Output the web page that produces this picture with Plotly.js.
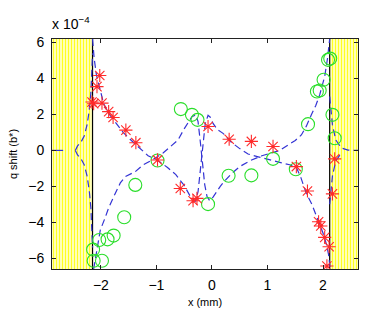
<!DOCTYPE html>
<html><head><meta charset="utf-8">
<script src="https://cdn.plot.ly/plotly-3.0.1.min.js"></script>
<style>html,body{margin:0;padding:0;background:#fff}#chart{width:365px;height:319px}</style>
</head><body><div id="chart"></div>
<script>
// y values are in units of 1e-4 (axis shows "x 10^-4")
const xRange = [-2.88, 2.63];
const yRange = [-6.6, 6.2];
const edgeLeft = -2.15, edgeRight = 2.12;

const redX = [-2.02,-2.07,-2.16,-2.13,-1.98,-1.86,-1.78,-1.55,-1.37,-0.98,-0.57,-0.34,-0.27,-0.07,0.31,0.71,1.10,1.52,1.72,1.92,1.96,2.03,2.11,2.07,2.21,2.17];
const redY = [4.17,3.55,2.69,2.6,2.63,2.16,1.83,1.13,0.43,-0.53,-2.12,-2.80,-2.67,1.33,0.62,0.50,0.22,-0.90,-2.26,-3.97,-4.21,-4.84,-5.36,-6.43,-0.47,-2.42];

const greenX = [-2.14,-2.13,-1.98,-2.03,-1.88,-1.77,-1.58,-1.38,-0.98,-0.56,-0.36,-0.26,-0.07,0.30,0.71,1.10,1.51,1.73,1.89,1.94,2.01,2.09,2.13,2.17,2.21];
const greenY = [-5.52,-6.14,-6.14,-4.99,-4.95,-4.74,-3.72,-1.92,-0.56,2.30,1.98,1.70,-2.99,-1.41,-1.39,-0.47,-1.05,1.46,3.28,3.33,3.93,5.04,5.11,1.98,0.68];

const theoryAX = [-2.15,-2.12,-2.08,-2.02,-1.95,-1.87,-1.75,-1.6,-1.45,-1.3,-1.15,-0.98,-0.8,-0.65,-0.5,-0.4,-0.3,-0.25,-0.2,-0.16,-0.12,-0.07,-0.03,0.02,0.1,0.2,0.35,0.5,0.65,0.85,1.0,1.2,1.4,1.52,1.6,1.7,1.8,1.9,2.0,2.06,2.1,2.13];
const theoryAY = [6.2,5.1,4.2,3.4,2.6,2.1,1.6,1.0,0.55,0.1,-0.3,-0.55,-0.95,-1.35,-1.95,-2.5,-2.85,-2.3,-0.8,0.6,1.5,1.95,1.85,1.5,1.15,0.95,0.45,0.1,-0.2,-0.37,-0.5,-0.65,-0.8,-0.95,-1.5,-2.4,-3.0,-3.8,-4.6,-5.2,-5.8,-6.6];

const theoryBX = [-2.13,-2.1,-2.07,-2.01,-1.93,-1.86,-1.75,-1.65,-1.56,-1.38,-1.24,-1.06,-0.88,-0.7,-0.61,-0.5,-0.42,-0.36,-0.29,-0.25,-0.21,-0.17,-0.13,-0.09,-0.04,0.02,0.08,0.15,0.23,0.35,0.5,0.7,0.9,1.05,1.22,1.37,1.5,1.61,1.7,1.79,1.87,1.94,2.03,2.08,2.12];
const theoryBY = [-6.6,-6.1,-5.54,-4.43,-3.8,-3.2,-2.45,-1.81,-1.46,-1.18,-0.81,-0.5,-0.14,0.31,0.58,1.2,1.6,1.88,1.98,1.6,0.5,-0.8,-1.9,-2.55,-2.8,-2.6,-2.3,-2.0,-1.7,-1.3,-0.9,-0.55,-0.3,-0.15,0.0,0.3,0.55,0.86,1.35,1.98,2.5,3.09,4.11,5.1,6.2];

const leftFlatX = [-2.88,-2.68];
const leftFlatY = [0,0];
const leftUpX = [-2.46,-2.42,-2.36,-2.3,-2.25,-2.21,-2.18,-2.16,-2.15];
const leftUpY = [0,0.25,0.45,0.8,1.4,2.2,3.2,4.3,5.4];
const leftDnX = [-2.46,-2.42,-2.36,-2.3,-2.25,-2.21,-2.18,-2.16,-2.15];
const leftDnY = [0,-0.25,-0.45,-0.8,-1.4,-2.2,-3.2,-4.3,-5.4];
const rightUpX = [2.12,2.14,2.17,2.23,2.33,2.45,2.63];
const rightUpY = [3.0,2.25,1.42,0.58,0.14,0.02,0];
const rightDnX = [2.12,2.14,2.17,2.23,2.33];
const rightDnY = [-3.0,-2.25,-1.42,-0.58,-0.14];

const xTicks = [-2,-1,0,1,2];
const yTicks = [-6,-4,-2,0,2,4,6];

const blue = '#3333d4';
const dashLine = {color: blue, width: 1.2, dash: '7px,4px'};
const stripe = {shape: '|', bgcolor: '#ffffff', fgcolor: '#ffff20', size: 3, solidity: 0.55};

function band(x0, x1) {
  return {x:[x0,x1,x1,x0,x0], y:[yRange[0],yRange[0],yRange[1],yRange[1],yRange[0]],
    mode:'lines', fill:'toself', fillcolor:'rgba(0,0,0,0)', fillpattern: stripe,
    line:{width:0}, hoverinfo:'skip', showlegend:false};
}
function vline(x) {
  return {x:[x,x], y:yRange, mode:'lines', line:{color:'#000', width:1.2}, showlegend:false};
}
function curve(x, y, solid) {
  return {x:x, y:y, mode:'lines', line: solid ? {color:blue, width:1.2} : dashLine, showlegend:false};
}

const data = [
  band(xRange[0], edgeLeft), band(edgeRight, xRange[1]),
  vline(edgeLeft), vline(edgeRight),
  curve(leftFlatX, leftFlatY, true),
  curve(leftUpX, leftUpY), curve(leftDnX, leftDnY),
  curve(rightUpX, rightUpY), curve(rightDnX, rightDnY),
  curve(theoryAX, theoryAY), curve(theoryBX, theoryBY),
  {x: greenX, y: greenY, mode:'markers', marker:{symbol:'circle-open', size:13, color:'#2ade2a', line:{width:1.1}}, showlegend:false},
  {x: redX, y: redY, mode:'markers', marker:{symbol:'asterisk-open', size:11, color:'#ff2a2a', line:{width:1.1}}, showlegend:false}
];

const axisCommon = {
  showgrid:false, zeroline:false, showline:true, linecolor:'#222', linewidth:1,
  mirror:'ticks', ticks:'inside', ticklen:4, tickcolor:'#222', tickwidth:1,
  tickfont:{family:'Liberation Sans, Arial, sans-serif', size:14, color:'#000'}
};

const layout = {
  width:365, height:319,
  margin:{l:52, r:7, t:39, b:50},
  paper_bgcolor:'#fff', plot_bgcolor:'#fff',
  xaxis: Object.assign({}, axisCommon, {range:xRange, tickvals:xTicks, ticklabelstandoff:3,
    title:{text:'x (mm)', font:{family:'Liberation Sans, Arial, sans-serif', size:11, color:'#000'}, standoff:6}}),
  yaxis: Object.assign({}, axisCommon, {range:yRange, tickvals:yTicks, ticklabelstandoff:4,
    title:{text:'q shift (b*)', font:{family:'Liberation Sans, Arial, sans-serif', size:11, color:'#000'}, standoff:8}}),
  annotations:[{xref:'paper', yref:'paper', x:-0.005, y:1.0, xanchor:'left', yanchor:'bottom', yshift:5,
    text:'x 10<sup>−4</sup>', showarrow:false, font:{family:'Liberation Sans, Arial, sans-serif', size:14, color:'#000'}}]
};

Plotly.newPlot('chart', data, layout, {staticPlot:true, displayModeBar:false});
</script></body></html>
